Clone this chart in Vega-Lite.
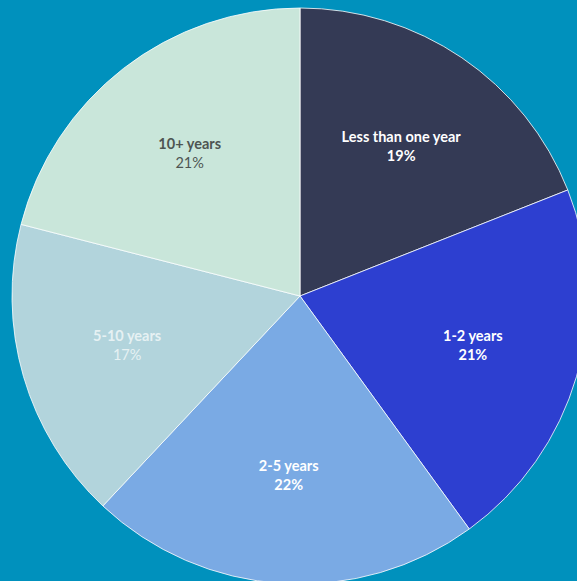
{
  "$schema": "https://vega.github.io/schema/vega-lite/v6.json",
  "width": 554,
  "height": 592,
  "autosize": {"type": "none"},
  "padding": {"left": 23, "top": 0, "right": 0, "bottom": -11},
  "background": "#0091BD",
  "view": {"stroke": null},
  "data": {
    "values": [
      {"label": "Less than one year", "value": 0.19, "rank": 1},
      {"label": "1-2 years", "value": 0.21, "rank": 2},
      {"label": "2-5 years", "value": 0.22, "rank": 3},
      {"label": "5-10 years", "value": 0.17, "rank": 4},
      {"label": "10+ years", "value": 0.21, "rank": 5}
    ]
  },
  "encoding": {
    "theta": {"field": "value", "type": "quantitative", "stack": true},
    "order": {"field": "rank", "type": "quantitative", "sort": "ascending"}
  },
  "layer": [
    {
      "mark": {"type": "arc", "outerRadius": 288, "stroke": "#ffffff", "strokeWidth": 0.8},
      "encoding": {
        "color": {
          "field": "label",
          "type": "nominal",
          "legend": null,
          "scale": {
            "domain": ["Less than one year", "1-2 years", "2-5 years", "5-10 years", "10+ years"],
            "range": ["#343A55", "#2D3FD0", "#7AAAE4", "#B2D4DC", "#C9E6DA"]
          }
        }
      }
    },
    {
      "mark": {"type": "text", "radius": 180, "dy": -9, "font": "Lato", "fontSize": 14.5, "fontWeight": "bold"},
      "encoding": {
        "text": {"field": "label", "type": "nominal"},
        "color": {
          "field": "label",
          "type": "nominal",
          "legend": null,
          "scale": {
            "domain": ["Less than one year", "1-2 years", "2-5 years", "5-10 years", "10+ years"],
            "range": ["#FFFFFF", "#FFFFFF", "#FFFFFF", "#E6F1F3", "#4E5552"]
          }
        }
      }
    },
    {
      "mark": {"type": "text", "radius": 180, "dy": 10, "font": "Lato", "fontSize": 14.5, "fontWeight": "bold"},
      "encoding": {
        "text": {"field": "value", "type": "quantitative", "format": ".0%"},
        "color": {
          "field": "label",
          "type": "nominal",
          "legend": null,
          "scale": {
            "domain": ["Less than one year", "1-2 years", "2-5 years", "5-10 years", "10+ years"],
            "range": ["#FFFFFF", "#FFFFFF", "#FFFFFF", "transparent", "transparent"]
          }
        }
      }
    },
    {
      "mark": {"type": "text", "radius": 180, "dy": 10, "font": "Lato", "fontSize": 14.5, "fontWeight": "normal"},
      "encoding": {
        "text": {"field": "value", "type": "quantitative", "format": ".0%"},
        "color": {
          "field": "label",
          "type": "nominal",
          "legend": null,
          "scale": {
            "domain": ["Less than one year", "1-2 years", "2-5 years", "5-10 years", "10+ years"],
            "range": ["transparent", "transparent", "transparent", "#E6F1F3", "#4E5552"]
          }
        }
      }
    }
  ],
  "resolve": {"scale": {"color": "independent"}}
}
